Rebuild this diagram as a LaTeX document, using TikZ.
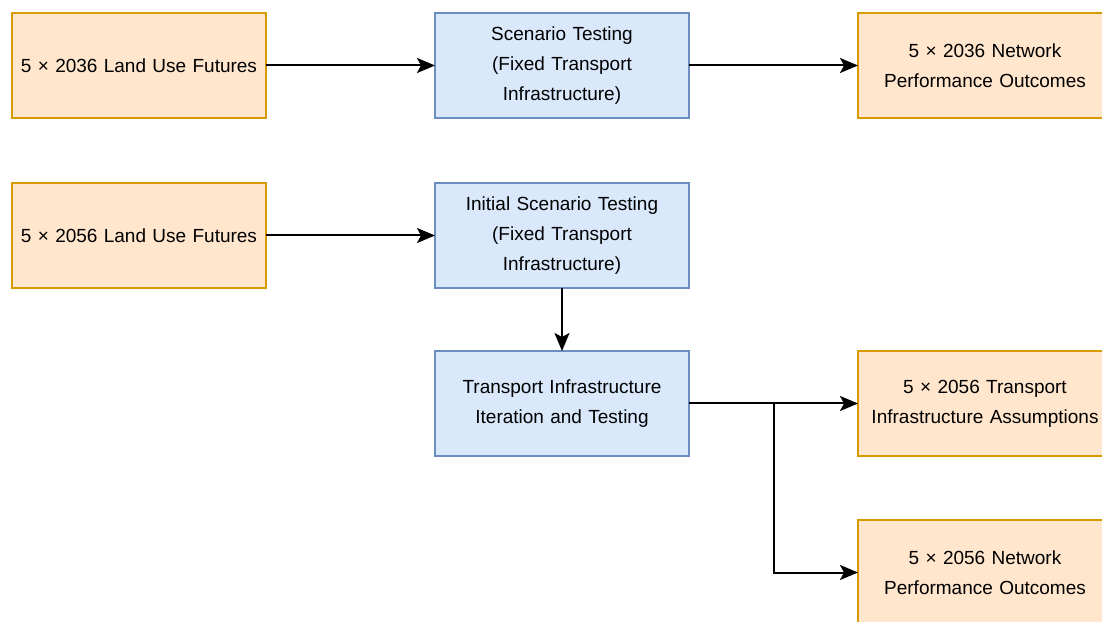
\documentclass[tikz,border=0pt]{standalone}
\usepackage{fontspec}
\setmainfont{Liberation Sans}
\usetikzlibrary{arrows.meta, positioning}
\definecolor{outfill}{HTML}{FFE6CC}
\definecolor{outdraw}{HTML}{D79B00}
\definecolor{modfill}{HTML}{DAE8FC}
\definecolor{moddraw}{HTML}{6C8EBF}

\begin{document}
\begin{tikzpicture}[
            x=1pt, y=1pt,
            font=\fontsize{19}{30}\selectfont,
            output/.style={rectangle, draw=outdraw, line width=1.5pt, fill=outfill, text width=252pt, align=center, minimum width=254pt, minimum height=105pt, inner sep=0pt, outer sep=0pt},
            model/.style={rectangle, draw=moddraw, line width=1.5pt, fill=modfill, text width=252pt, align=center, minimum width=254pt, minimum height=105pt, inner sep=0pt, outer sep=0pt},
            line/.style={draw, -{Stealth[length=18pt, width=15pt, inset=4pt]}, line width=2pt}
        ]
            \clip (0,0) rectangle (1102,621);
            \fill[white] (0,0) rectangle (1102,621);
            % Nodes
            \node [output] (lu36) at (139,555.5) {5 × 2036 Land Use Futures};
            \node [model, right=169pt of lu36] (test36) {Scenario Testing\\(Fixed Transport\\Infrastructure)};
            \node [output, right=169pt of test36] (perf36) {5 × 2036 Network\\Performance Outcomes};
            
            \node [output, below=65pt of lu36] (lu56) {5 × 2056 Land Use Futures};
            \node [model, right=169pt of lu56] (test56) {Initial Scenario Testing\\(Fixed Transport\\Infrastructure)};
            \node [model, below=63pt of test56] (iter56) {Transport Infrastructure\\Iteration and Testing};
            
            % End points
            \node [output, right=169pt of iter56] (infra56) {5 × 2056 Transport\\Infrastructure Assumptions};
            \node [output, below=64pt of infra56] (perf56) {5 × 2056 Network\\Performance Outcomes};
            
            % Edges
            \path [line] (lu36) -- (test36);
            \path [line] (test36) -- (perf36);
            \path [line] (lu56) -- (test56);
            \path [line] (test56) -- (iter56);
            \path [line] (iter56) -- (infra56);
            \path (iter56.east) -- (infra56.west) coordinate[midway] (split);
            \path [line] (split) |- (perf56);
        \end{tikzpicture}
\end{document}
